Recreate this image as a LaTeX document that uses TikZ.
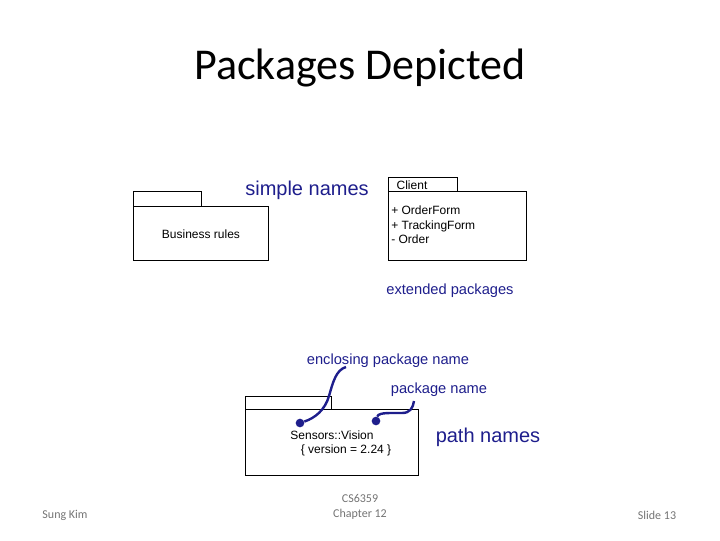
\documentclass[tikz,border=0pt]{standalone}
\usepackage{fontspec}
\setmainfont{Liberation Sans}
\newfontfamily\slidefont{Carlito}
\definecolor{notecolor}{RGB}{30,30,140}
\tikzset{
  pkgline/.style={draw, line width=0.7pt},
  boxtext/.style={font=\fontsize{9}{11}\selectfont, inner sep=0pt},
  note/.style={text=notecolor, font=\fontsize{11}{13}\selectfont, inner sep=0pt},
  bignote/.style={text=notecolor, font=\fontsize{15}{17}\selectfont, inner sep=0pt},
  footer/.style={text=black!55, font=\slidefont\fontsize{9}{11}\selectfont, inner sep=0pt, align=center},
  pindot/.style={circle, fill=notecolor, inner sep=0pt, minimum size=6.5pt},
  pinline/.style={notecolor, line width=1.8pt},
}
\begin{document}
\begin{tikzpicture}[x=0.75pt,y=-0.75pt]
  \useasboundingbox (0,0) rectangle (720,540);
  \node (title) at (360,68) {\slidefont\fontsize{33}{37}\selectfont Packages Depicted};
  % simple package
  \draw[pkgline] (133,191) rectangle (201,206);
  \draw[pkgline] (133,206) rectangle (268,260);
  \node[boxtext] (busrules) at (201,234) {Business rules};
  \node[bignote] (simple) at (307,190) {simple names};
  % package with contents
  \draw[pkgline] (388,177) rectangle (457,191);
  \draw[pkgline] (388,191) rectangle (526,260);
  \node[boxtext] (client) at (412,185) {Client};
  \node[boxtext, anchor=base west] (orderform) at (391,214.5) {+ OrderForm};
  \node[boxtext, anchor=base west] (trackform) at (391,229) {+ TrackingForm};
  \node[boxtext, anchor=base west] (order) at (391,243.5) {- Order};
  \node[note] (extended) at (450,291) {extended packages};
  % path name
  \draw[pkgline] (245,396) rectangle (331,409);
  \draw[pkgline] (245,409) rectangle (418,475);
  \node[boxtext] (vision) at (332,435) {Sensors::Vision};
  \node[boxtext] (version) at (346,450) {\{ version = 2.24 \}};
  \node[note] (enclosing) at (388,361) {enclosing package name};
  \node[note] (pkgname) at (439,390) {package name};
  \node[bignote] (pathnames) at (488,437) {path names};
  \node[pindot] (d1) at (300,423) {};
  \node[pindot] (d2) at (376,421) {};
  \coordinate (e1) at (346,367);
  \coordinate (e2) at (414,401);
  \draw[pinline] (d1) .. controls (315,418) and (325,410) .. (329,396)
    .. controls (333,382) and (336,370) .. (e1);
  \draw[pinline] (d2) .. controls (378,414) and (382,413) .. (392,413) -- (402,413)
    .. controls (410,413) and (413,408) .. (e2);
  % footer
  \node[footer] (author) at (65,515) {Sung Kim};
  \node[footer] (course) at (360,507) {CS6359\\Chapter 12};
  \node[footer] (slide) at (657,515) {Slide 13};
\end{tikzpicture}
\end{document}
